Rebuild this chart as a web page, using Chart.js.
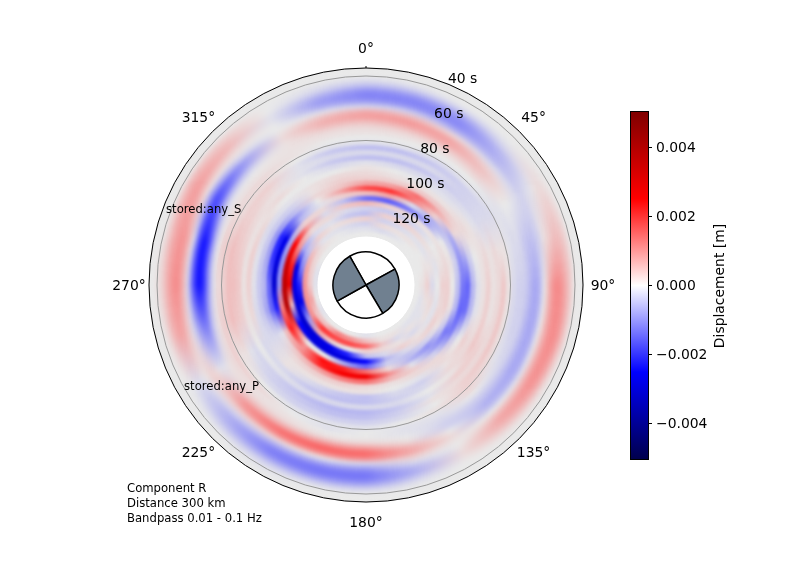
<!DOCTYPE html>
<html>
<head>
  <title>Polar displacement</title>
  <style>
    html, body { margin: 0; background: #fff; }
    canvas { position: absolute; }
  </style>
  <script src="https://cdn.jsdelivr.net/npm/chart.js@4/dist/chart.umd.js"></script>
</head>
<body>
  <canvas id="heat" width="803" height="565" style="left:0;top:0"></canvas>
  <canvas id="ball" width="70" height="70" style="left:331px;top:250px"></canvas>
  <canvas id="bar" width="203" height="565" style="left:600px;top:0"></canvas>
  <script>
    const angleTicks = ["0°", "45°", "90°", "135°", "180°", "225°", "270°", "315°"];
    const timeTicks = ["40 s", "60 s", "80 s", "100 s", "120 s"];
    const notes = ["Component R", "Distance 300 km", "Bandpass 0.01 - 0.1 Hz"];
    const colorbarTicks = [-0.004, -0.002, 0, 0.002, 0.004];

    // beachball slices, degrees clockwise from the first nodal line
    const ballSlices = [90.8, 88.2, 91.3, 89.7];
    const ballColors = ["#ffffff", "#708090", "#ffffff", "#708090"];

    // displacement in 1e-4 m, one row per azimuth, outer ring first
    const azimuths = [0, 15, 30, 45, 60, 75, 90, 105, 120, 135, 150, 165, 180, 195, 210, 225, 240, 255, 270, 285, 300, 315, 330, 345];
    const displacement = [
      [0,0,-2,-6,-11,-12,-9,-2,8,9,5,2,1,0,-1,-5,-2,-5,-1,1,2,3,8,18,5,-14,6,-3,-5,3,-3,-1,0],
      [0,0,-1,-5,-10,-12,-10,-3,6,10,7,3,1,0,-1,-5,-2,-5,-2,0,1,3,9,20,8,-16,3,-4,3,-3,2,-2,0],
      [0,0,0,-3,-8,-11,-11,-7,2,8,8,4,1,0,-2,-4,-2,-4,-2,-1,1,4,14,12,-2,-12,2,-3,3,-2,1,-1,0],
      [0,0,0,-1,-3,-6,-7,-6,-2,3,5,4,2,0,-1,-3,-3,-3,-2,-1,1,4,7,3,-7,-8,1,-2,2,-1,1,0,0],
      [0,0,1,2,1,-1,-2,-3,-2,-1,0,0,-1,-1,-2,-2,-2,-2,-1,1,2,2,2,-7,-4,0,1,0,1,-1,0,0,0],
      [0,0,3,5,5,3,1,-3,-5,-5,-4,-2,-2,-1,1,1,2,1,2,1,0,-3,-8,-10,-3,1,2,1,-1,1,1,0,0],
      [0,0,4,8,11,11,7,0,-7,-8,-5,-3,-3,-2,1,4,2,1,3,1,-1,-6,-15,-13,-5,0,3,3,0,-2,3,1,0],
      [0,0,4,9,11,10,6,0,-7,-8,-6,-3,-3,-2,1,4,2,1,3,1,-1,-6,-14,-15,-6,1,3,2,-1,2,1,-1,0],
      [0,0,2,7,10,10,6,-1,-7,-8,-6,-3,-2,-1,2,4,2,3,4,2,3,0,-4,-12,-13,-4,1,3,-1,1,-1,-1,0],
      [0,0,1,4,7,8,5,0,-5,-7,-5,-3,0,2,3,3,2,3,1,2,1,2,2,-3,-8,-10,-3,2,1,-2,1,-1,0],
      [0,0,0,1,2,1,0,1,2,0,-3,-3,-2,-1,1,0,1,-1,0,-2,-3,-1,2,3,-1,-6,-5,-2,3,1,-2,1,0],
      [0,0,-1,-4,-7,-6,-2,3,8,7,2,0,-1,-1,0,-2,-3,-4,-2,-3,-2,0,1,6,10,2,-3,-6,-2,2,4,1,0],
      [0,0,-3,-9,-13,-13,-9,-2,12,15,9,2,0,0,-1,-3,-5,-6,-2,-5,-5,1,2,14,28,14,-15,-25,-5,3,15,5,-1],
      [0,0,-3,-9,-13,-13,-8,0,12,16,9,2,0,-1,-1,-3,-5,-6,-2,-5,-4,1,3,12,27,22,-8,-30,-22,0,18,10,0],
      [0,-1,-3,-8,-12,-12,-7,2,12,14,7,2,1,0,-1,-3,-4,-5,-2,-4,-2,1,3,8,22,24,0,-30,-28,3,18,12,0],
      [0,0,-2,-5,-7,-7,-3,3,9,10,5,2,1,2,0,-2,-3,-3,-1,-2,1,1,2,4,10,10,0,-30,-30,8,20,5,0],
      [0,0,0,-1,-2,-1,1,3,2,-1,-1,1,2,3,1,1,-1,-2,0,-2,-2,-2,-2,-1,5,22,18,-25,-32,-10,10,4,-1],
      [0,0,2,6,8,8,4,-2,-8,-12,-12,-4,1,3,4,5,4,3,1,2,-2,-4,-8,-15,-22,12,40,5,-30,-28,10,8,0],
      [0,1,3,7,10,11,7,-2,-16,-24,-22,-10,-1,2,3,5,5,4,1,3,-1,-4,-6,-15,-32,-10,38,30,-28,-22,10,4,-1],
      [0,0,3,7,9,10,7,-1,-16,-24,-20,-8,0,3,4,5,4,3,1,3,-1,-4,-8,-20,-30,-10,35,22,-28,-12,8,3,-1],
      [0,0,5,8,9,6,1,-10,-18,-16,-7,-1,1,2,2,3,3,2,1,2,-2,-4,-10,-22,-28,-8,25,10,-8,-5,5,2,0],
      [0,0,3,5,6,3,1,-3,-9,-8,-3,0,1,2,2,3,2,1,2,0,-1,-3,-5,-9,-6,3,8,2,-2,3,-1,1,0],
      [0,0,0,0,-1,-1,0,0,1,2,1,1,1,1,0,-1,-1,-1,0,0,1,1,2,0,-1,2,-2,2,-1,1,-1,0,0],
      [0,0,-1,-3,-7,-9,-7,-1,5,7,5,2,1,0,-1,-4,-2,-4,-2,0,2,3,4,8,3,-5,4,-2,-4,2,-2,-1,0],
    ];

    const FONT = "'DejaVu Sans', sans-serif";
    const VMAX = 50.3;

    // matplotlib "seismic", v in 1e-4 m
    function seismic(v) {
      const t = Math.max(-1, Math.min(1, v / VMAX));
      if (t < -0.5) return [0, 0, 255 * (0.3 + 0.7 * (t + 1) * 2)];
      if (t < 0) return [255 * (t + 0.5) * 2, 255 * (t + 0.5) * 2, 255];
      if (t < 0.5) return [255, 255 * (1 - t * 2), 255 * (1 - t * 2)];
      return [255 * (1 - (t - 0.5)), 0, 0];
    }

    // the plot has a grey veil that only shows where the signal is weak
    function cellColor(v) {
      const veil = 0.915 + 0.085 * Math.min(1, Math.abs(v) / 20);
      const c = seismic(v).map((x) => Math.round(x * veil));
      return `rgb(${c[0]},${c[1]},${c[2]})`;
    }

    // one conic gradient per ring, so the colour is shaded between the azimuths
    const ringGradients = [];
    function ringFill(ctx) {
      const a = ctx.chart.chartArea;
      const i = ctx.datasetIndex;
      if (!a || i === undefined) return "#fff";
      if (!ringGradients[i]) {
        const x = (a.left + a.right) / 2, y = (a.top + a.bottom) / 2;
        const g = ctx.chart.ctx.createConicGradient(-Math.PI / 2, x, y);
        azimuths.forEach((az, s) => g.addColorStop(az / 360, cellColor(displacement[s][i])));
        g.addColorStop(1, cellColor(displacement[0][i]));
        ringGradients[i] = g;
      }
      return ringGradients[i];
    }

    const rings = displacement[0].map(() => ({
      data: azimuths.map(() => 1),
      backgroundColor: ringFill,
      borderColor: ringFill,
      borderWidth: 1,
    }));

    function blurAnnulus(chart, rOut, rIn, px) {
      const { ctx, canvas } = chart;
      const meta = chart.getDatasetMeta(0).data[0];
      ctx.save();
      ctx.beginPath();
      ctx.arc(meta.x, meta.y, rOut, 0, Math.PI * 2);
      ctx.arc(meta.x, meta.y, rIn, 0, Math.PI * 2, true);
      ctx.clip();
      ctx.filter = `blur(${px}px)`;
      ctx.drawImage(canvas, 0, 0);
      ctx.restore();
    }

    function polar(cx, cy, r, deg) {
      const a = (deg * Math.PI) / 180;
      return [cx + r * Math.sin(a), cy - r * Math.cos(a)];
    }

    const overlay = {
      id: "overlay",
      afterDatasetsDraw(chart) {
        const meta = chart.getDatasetMeta(0).data[0];
        const cx = meta.x, cy = meta.y;
        blurAnnulus(chart, 217, 150, 2.5);
        blurAnnulus(chart, 150, 49, 1.5);

        const { ctx } = chart;
        ctx.save();
        ctx.lineWidth = 1;
        ctx.strokeStyle = "#999999";
        [209, 144.5].forEach((r) => {
          ctx.beginPath();
          ctx.arc(cx, cy, r, 0, Math.PI * 2);
          ctx.stroke();
        });
        ctx.strokeStyle = "#000";
        ctx.beginPath();
        ctx.arc(cx, cy, 217, 0, Math.PI * 2);
        ctx.stroke();
        ctx.beginPath();
        ctx.moveTo(cx, cy - 217);
        ctx.lineTo(cx, cy - 219);
        ctx.stroke();

        ctx.fillStyle = "#000";
        ctx.textBaseline = "middle";
        ctx.font = `13.9px ${FONT}`;
        ctx.textAlign = "center";
        angleTicks.forEach((label, i) => {
          const [x, y] = polar(cx, cy, 237, i * 45);
          ctx.fillText(label, x, y + 1);
        });
        ctx.textAlign = "left";
        timeTicks.forEach((label, i) => {
          const [x, y] = polar(cx, cy, 222.6 - 37.7 * i, 21.6);
          ctx.fillText(label, x, y + 1);
        });

        ctx.font = `11.65px ${FONT}`;
        ctx.fillText("stored:any_S", 166, 210);
        ctx.fillText("stored:any_P", 184, 387);
        notes.forEach((line, i) => ctx.fillText(line, 127, 489 + i * 15));
        ctx.restore();
      },
    };

    new Chart(document.getElementById("heat"), {
      type: "doughnut",
      data: { labels: azimuths, datasets: rings },
      options: {
        responsive: false,
        animation: false,
        rotation: -7.5,
        cutout: 49,
        layout: { padding: { left: 148.5, right: 219.5, top: 67.5, bottom: 62.5 } },
        plugins: { legend: { display: false }, tooltip: { enabled: false } },
      },
      plugins: [overlay],
    });

    new Chart(document.getElementById("ball"), {
      type: "pie",
      data: {
        labels: ballColors,
        datasets: [{ data: ballSlices, backgroundColor: ballColors, borderColor: "#000", borderWidth: 1.5 }],
      },
      options: {
        responsive: false,
        animation: false,
        rotation: -29.5,
        layout: { padding: 1.2 },
        plugins: { legend: { display: false }, tooltip: { enabled: false } },
      },
    });

    const barFrame = {
      id: "barFrame",
      afterDraw(chart) {
        const { ctx, chartArea: a } = chart;
        ctx.save();
        ctx.strokeStyle = "#000";
        ctx.lineWidth = 1;
        ctx.strokeRect(a.left - 0.5, a.top - 0.5, a.width + 1, a.height + 1);
        ctx.translate(120, (a.top + a.bottom) / 2 + 0.5);
        ctx.rotate(-Math.PI / 2);
        ctx.fillStyle = "#000";
        ctx.font = `13.9px ${FONT}`;
        ctx.textAlign = "center";
        ctx.textBaseline = "middle";
        ctx.fillText("Displacement [m]", 0, 0);
        ctx.restore();
      },
    };

    new Chart(document.getElementById("bar"), {
      type: "bar",
      data: {
        labels: ["cb"],
        datasets: [{
          data: [[-VMAX * 1e-4, VMAX * 1e-4]],
          barPercentage: 1,
          categoryPercentage: 1,
          backgroundColor(ctx) {
            const a = ctx.chart.chartArea;
            if (!a) return "#fff";
            const g = ctx.chart.ctx.createLinearGradient(0, a.bottom, 0, a.top);
            [0, 0.25, 0.5, 0.75, 1].forEach((p) => {
              const c = seismic((p * 2 - 1) * VMAX).map(Math.round);
              g.addColorStop(p, `rgb(${c[0]},${c[1]},${c[2]})`);
            });
            return g;
          },
        }],
      },
      options: {
        responsive: false,
        animation: false,
        layout: { padding: { left: 31, top: 112, bottom: 106 } },
        plugins: { legend: { display: false }, tooltip: { enabled: false } },
        scales: {
          x: { display: false },
          y: {
            position: "right",
            min: -VMAX * 1e-4,
            max: VMAX * 1e-4,
            afterFit(scale) { scale.width = 155; },
            afterBuildTicks(scale) { scale.ticks = colorbarTicks.map((value) => ({ value })); },
            grid: { drawOnChartArea: false, drawTicks: true, tickLength: 4, color: "#000" },
            border: { display: false },
            ticks: {
              color: "#000",
              padding: 4,
              labelOffset: 0.5,
              font: { size: 13.9, family: FONT },
              callback: (v) => (v < 0 ? "\u2212" : "") + Math.abs(v).toFixed(3),
            },
          },
        },
      },
      plugins: [barFrame],
    });
  </script>
</body>
</html>
